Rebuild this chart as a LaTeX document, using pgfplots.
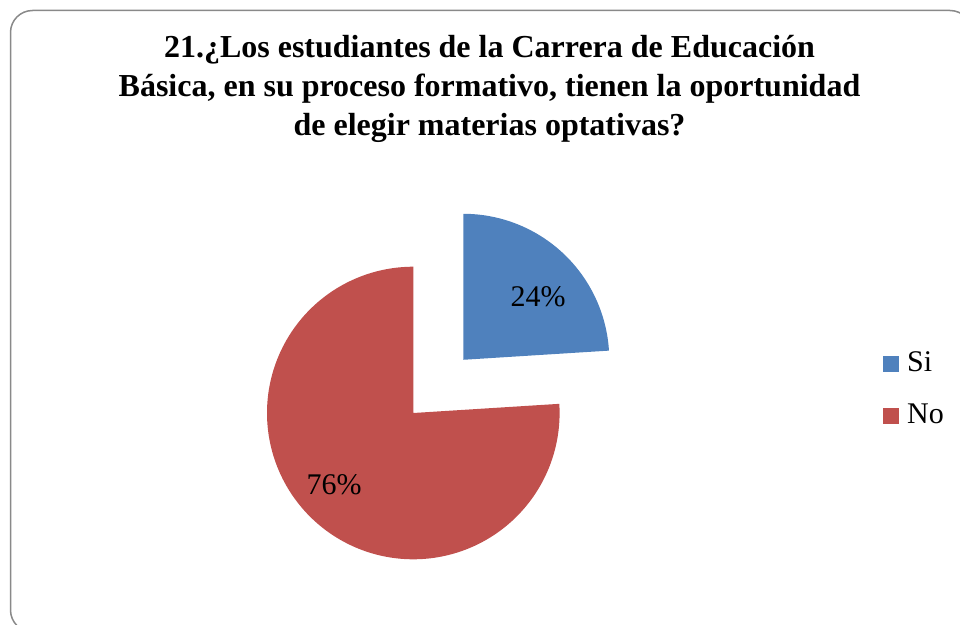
\documentclass[border=0pt]{standalone}
\usepackage{pgfplots}
\usepackage{pgfplotstable}
\usepackage{fontspec}
\setmainfont{Liberation Serif}
\pgfplotsset{compat=1.18}
\definecolor{siblue}{HTML}{4F81BD}
\definecolor{nored}{HTML}{C0504D}
\definecolor{frame}{HTML}{898989}
\pgfplotstableread{
label value
Si 24
No 76
}\piedata
\pgfplotstablegetelem{0}{value}\of\piedata \let\vSi\pgfplotsretval
\pgfplotstablegetelem{1}{value}\of\piedata \let\vNo\pgfplotsretval
\pgfmathsetmacro{\aSiStart}{90-3.6*\vSi}
\pgfmathsetmacro{\aNoEnd}{90+3.6*\vNo}
\pgfmathsetmacro{\aMid}{90-1.8*\vSi}
\pgfmathsetmacro{\cx}{413.3}
\pgfmathsetmacro{\cy}{413}
\pgfmathsetmacro{\bx}{\cx+73*cos(\aMid)}
\pgfmathsetmacro{\by}{\cy-73*sin(\aMid)}
\begin{document}
\begin{tikzpicture}
\useasboundingbox (0,0) rectangle (960bp,625bp);
\clip (0,0) rectangle (960bp,625bp);
\begin{axis}[
  at={(0,0)}, anchor=south west,
  scale only axis, width=960bp, height=625bp,
  xmin=0, xmax=960, ymin=0, ymax=625, y dir=reverse,
  hide axis, clip=false,
  legend cell align=left,
  legend style={draw=none, fill=none, at={(axis cs:880,390)}, anchor=west,
    font=\fontsize{30bp}{34bp}\selectfont,
    nodes={inner sep=0pt, text height=20bp, text depth=6bp},
    row sep=26bp, column sep=8bp},
  legend image code/.code={\fill[#1] (0bp,-8bp) rectangle (16bp,8bp);},
]
\draw[frame, line width=1.5bp, rounded corners=22bp] (axis cs:10.5,10.5) rectangle (axis cs:972,632);
\addplot[fill=siblue, draw=none, domain=\aSiStart:90, samples=80]
  ({\bx+146*cos(x)}, {\by-146*sin(x)}) -- (axis cs:\bx,\by) -- cycle;
\addlegendentry{Si}
\addplot[fill=nored, draw=none, domain=90:\aNoEnd, samples=200]
  ({\cx+146.3*cos(x)}, {\cy-146.3*sin(x)}) -- (axis cs:\cx,\cy) -- cycle;
\addlegendentry{No}
\node[anchor=base, font=\fontsize{30bp}{34bp}\selectfont] at (axis cs:538,306.5) {24\%};
\node[anchor=base, font=\fontsize{30bp}{34bp}\selectfont] at (axis cs:334,494) {76\%};
\begin{scope}[every node/.style={anchor=base, font=\fontsize{32bp}{38bp}\selectfont\bfseries}]
\node at (axis cs:489.5,58) {21.¿Los estudiantes de la Carrera de Educación};
\node at (axis cs:489.5,96.5) {Básica, en su proceso formativo, tienen la oportunidad};
\node at (axis cs:489.5,135) {de elegir materias optativas?};
\end{scope}
\end{axis}
\end{tikzpicture}
\end{document}
